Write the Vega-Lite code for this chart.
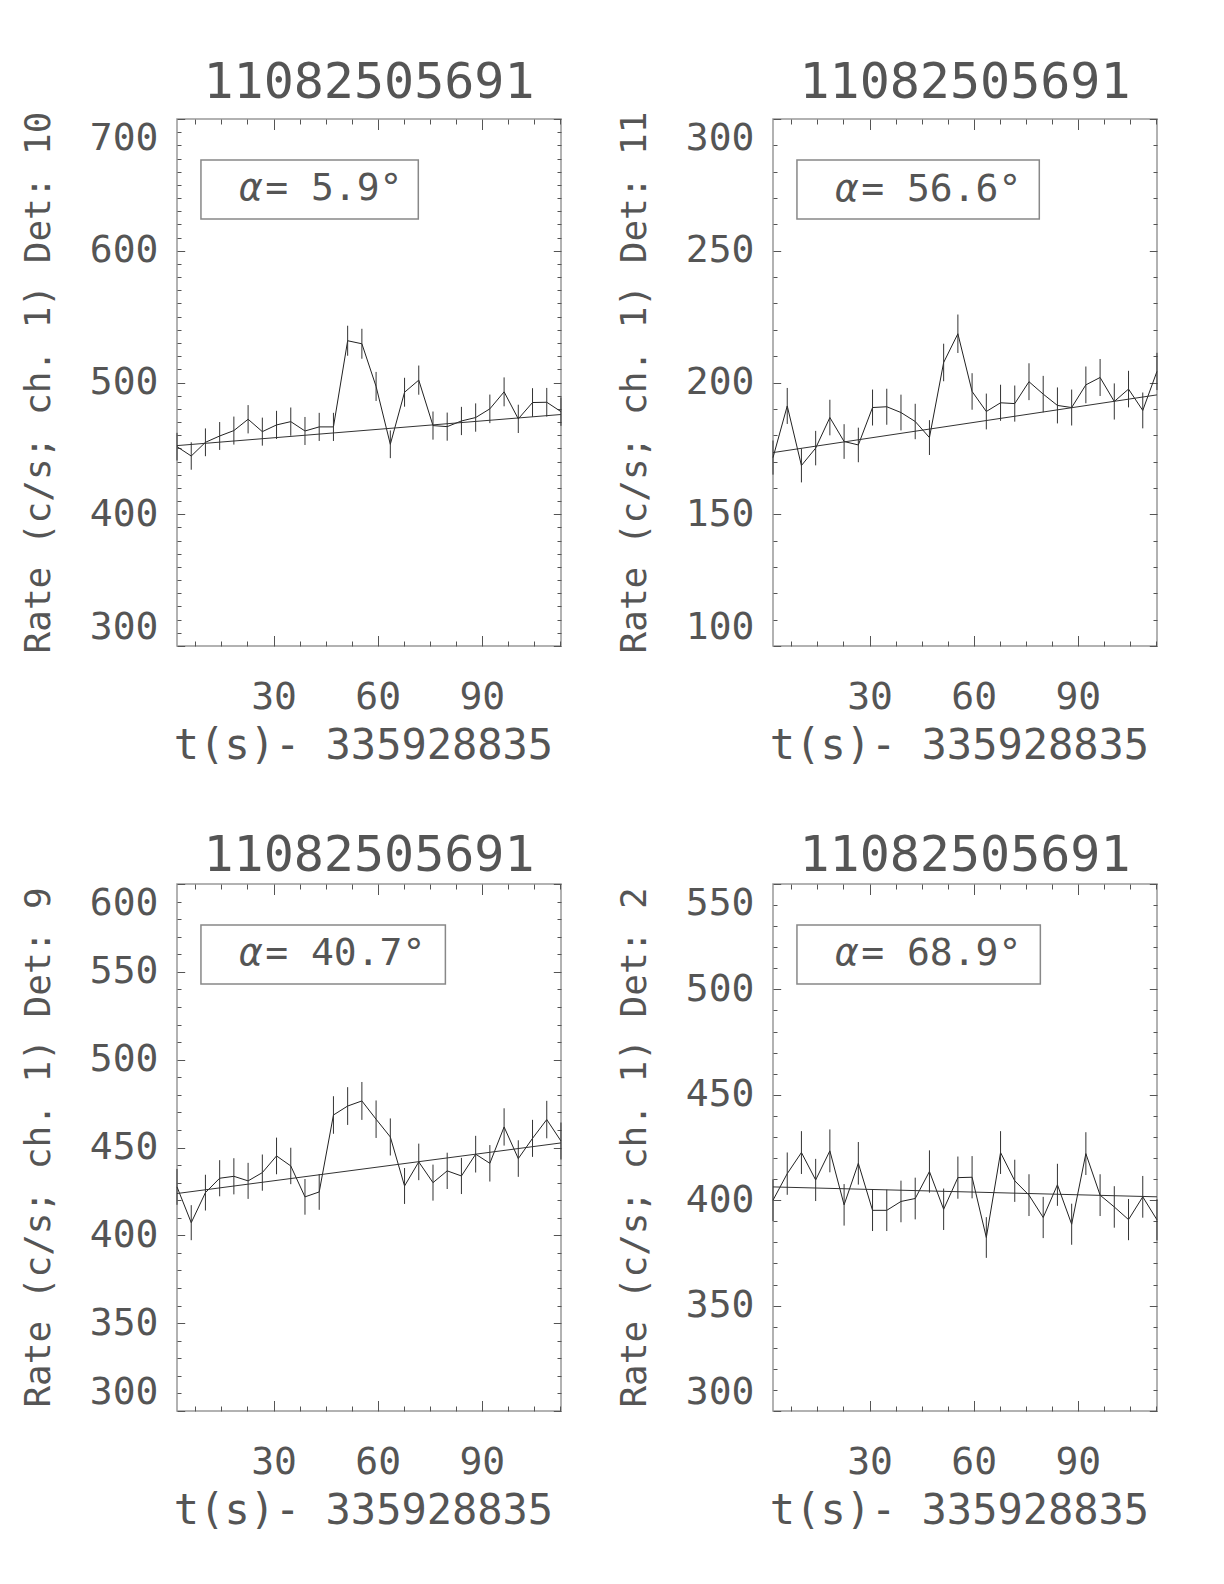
{
  "$schema": "https://vega.github.io/schema/vega-lite/v6.json",
  "background": "white",
  "padding": {"left": 19, "top": 57, "right": 5, "bottom": 5},
  "datasets": {
    "d10": [
      {"t":2.2,"rate":451.3,"err":10.5},{"t":6.3,"rate":444.2,"err":10.41},{"t":10.39,"rate":454.6,"err":10.54},{"t":14.49,"rate":459.4,"err":10.59},
      {"t":18.58,"rate":463.5,"err":10.64},{"t":22.68,"rate":472.1,"err":10.74},{"t":26.78,"rate":462.7,"err":10.63},{"t":30.87,"rate":467.8,"err":10.69},
      {"t":34.97,"rate":470.3,"err":10.72},{"t":39.06,"rate":463.2,"err":10.63},{"t":43.16,"rate":466.3,"err":10.67},{"t":47.26,"rate":466.3,"err":10.67},
      {"t":51.35,"rate":531.7,"err":11.39},{"t":55.45,"rate":529.4,"err":11.37},{"t":59.54,"rate":497.0,"err":11.02},{"t":63.64,"rate":453.1,"err":10.52},
      {"t":67.74,"rate":492.6,"err":10.97},{"t":71.83,"rate":501.8,"err":11.07},{"t":75.93,"rate":467.3,"err":10.68},{"t":80.02,"rate":466.5,"err":10.67},
      {"t":84.12,"rate":470.8,"err":10.72},{"t":88.22,"rate":473.4,"err":10.75},{"t":92.31,"rate":480.0,"err":10.83},{"t":96.41,"rate":492.9,"err":10.97},
      {"t":100.5,"rate":472.4,"err":10.74},{"t":104.6,"rate":484.8,"err":10.88},{"t":108.7,"rate":485.0,"err":10.88},{"t":112.79,"rate":477.9,"err":10.8}
    ],
    "d11": [
      {"t":2.2,"rate":171.5,"err":6.47},{"t":6.3,"rate":191.1,"err":6.83},{"t":10.39,"rate":168.5,"err":6.41},{"t":14.49,"rate":175.1,"err":6.54},
      {"t":18.58,"rate":186.7,"err":6.75},{"t":22.68,"rate":177.6,"err":6.58},{"t":26.78,"rate":176.3,"err":6.56},{"t":30.87,"rate":190.5,"err":6.82},
      {"t":34.97,"rate":190.8,"err":6.83},{"t":39.06,"rate":188.6,"err":6.79},{"t":43.16,"rate":185.2,"err":6.72},{"t":47.26,"rate":179.1,"err":6.61},
      {"t":51.35,"rate":207.6,"err":7.12},{"t":55.45,"rate":218.5,"err":7.3},{"t":59.54,"rate":196.6,"err":6.93},{"t":63.64,"rate":189.0,"err":6.79},
      {"t":67.74,"rate":192.3,"err":6.85},{"t":71.83,"rate":192.0,"err":6.85},{"t":75.93,"rate":200.3,"err":6.99},{"t":80.02,"rate":195.6,"err":6.91},
      {"t":84.12,"rate":191.3,"err":6.83},{"t":88.22,"rate":190.5,"err":6.82},{"t":92.31,"rate":199.1,"err":6.97},{"t":96.41,"rate":201.9,"err":7.02},
      {"t":100.5,"rate":192.8,"err":6.86},{"t":104.6,"rate":197.5,"err":6.94},{"t":108.7,"rate":189.4,"err":6.8},{"t":112.79,"rate":204.2,"err":7.06}
    ],
    "d9": [
      {"t":2.2,"rate":427.6,"err":10.22},{"t":6.3,"rate":407.2,"err":9.97},{"t":10.39,"rate":424.3,"err":10.18},{"t":14.49,"rate":432.5,"err":10.28},
      {"t":18.58,"rate":433.6,"err":10.29},{"t":22.68,"rate":431.0,"err":10.26},{"t":26.78,"rate":435.7,"err":10.31},{"t":30.87,"rate":445.2,"err":10.43},
      {"t":34.97,"rate":439.5,"err":10.36},{"t":39.06,"rate":421.9,"err":10.15},{"t":43.16,"rate":424.7,"err":10.18},{"t":47.26,"rate":468.5,"err":10.69},
      {"t":51.35,"rate":473.6,"err":10.75},{"t":55.45,"rate":476.5,"err":10.79},{"t":59.54,"rate":466.1,"err":10.67},{"t":63.64,"rate":456.0,"err":10.55},
      {"t":67.74,"rate":428.1,"err":10.22},{"t":71.83,"rate":441.8,"err":10.39},{"t":75.93,"rate":430.0,"err":10.25},{"t":80.02,"rate":436.7,"err":10.33},
      {"t":84.12,"rate":433.8,"err":10.29},{"t":88.22,"rate":446.2,"err":10.44},{"t":92.31,"rate":441.0,"err":10.38},{"t":96.41,"rate":461.7,"err":10.62},
      {"t":100.5,"rate":443.7,"err":10.41},{"t":104.6,"rate":455.2,"err":10.54},{"t":108.7,"rate":465.9,"err":10.66},{"t":112.79,"rate":453.7,"err":10.52}
    ],
    "d2": [
      {"t":2.2,"rate":400.0,"err":9.88},{"t":6.3,"rate":412.6,"err":10.04},{"t":10.39,"rate":422.6,"err":10.16},{"t":14.49,"rate":409.6,"err":10.0},
      {"t":18.58,"rate":423.4,"err":10.17},{"t":22.68,"rate":397.8,"err":9.85},{"t":26.78,"rate":417.5,"err":10.1},{"t":30.87,"rate":395.2,"err":9.82},
      {"t":34.97,"rate":395.2,"err":9.82},{"t":39.06,"rate":399.4,"err":9.87},{"t":43.16,"rate":400.8,"err":9.89},{"t":47.26,"rate":413.6,"err":10.05},
      {"t":51.35,"rate":395.7,"err":9.83},{"t":55.45,"rate":410.7,"err":10.01},{"t":59.54,"rate":410.9,"err":10.02},{"t":63.64,"rate":382.3,"err":9.66},
      {"t":67.74,"rate":422.6,"err":10.16},{"t":71.83,"rate":409.2,"err":10.0},{"t":75.93,"rate":402.4,"err":9.91},{"t":80.02,"rate":391.8,"err":9.78},
      {"t":84.12,"rate":407.3,"err":9.97},{"t":88.22,"rate":388.6,"err":9.74},{"t":92.31,"rate":422.1,"err":10.15},{"t":96.41,"rate":402.4,"err":9.91},
      {"t":100.5,"rate":396.8,"err":9.84},{"t":104.6,"rate":390.8,"err":9.77},{"t":108.7,"rate":401.6,"err":9.9},{"t":112.79,"rate":390.7,"err":9.77}
    ],
    "f10": [{"t":2.2,"fit":452.1},{"t":112.79,"fit":475.7}],
    "f11": [{"t":2.2,"fit":173.4},{"t":112.79,"fit":195.3}],
    "f9": [{"t":2.2,"fit":423.8},{"t":112.79,"fit":452.6}],
    "f2": [{"t":2.2,"fit":406.3},{"t":112.79,"fit":401.6}]
  },
  "columns": 2,
  "bounds": "flush",
  "spacing": {"row": 238, "column": 212},
  "concat": [
    {
      "width": 384, "height": 527,
      "title": "11082505691",
      "data": {"name": "d10"},
      "resolve": {"axis": {"x": "independent", "y": "independent"}},
      "layer": [
        {"mark": {"type": "point", "opacity": 0},
         "encoding": {
           "x": {"field": "t", "type": "quantitative", "scale": {"domain": [2.2, 112.8], "nice": false, "zero": false},
                 "axis": {"orient": "bottom", "values": [30, 60, 90], "tickSize": -10.5, "labelPadding": 72.5, "labelBaseline": "alphabetic",
                          "title": "t(s)- 335928835", "titleX": 186, "titleY": 112, "titleBaseline": "alphabetic", "titleAlign": "center", "titleFontSize": 42}},
           "y": {"field": "rate", "type": "quantitative", "scale": {"domain": [300, 700], "nice": false, "zero": false},
                 "axis": {"orient": "left", "values": [300, 400, 500, 600, 700], "tickSize": -7.7, "labelPadding": 26.7, "labelFlush": true,
                          "title": "Rate (c/s; ch. 1) Det: 10", "titleX": -128, "titleY": 263, "titleBaseline": "alphabetic", "titleAlign": "center", "titleAngle": 270, "titleFontSize": 36}}}},
        {"mark": {"type": "point", "opacity": 0},
         "encoding": {
           "x": {"field": "t", "type": "quantitative", "axis": {"orient": "bottom", "values": [7.5,15,22.5,37.5,45,52.5,67.5,75,82.5,97.5,105,112.5], "tickSize": -5, "labels": false, "title": null}},
           "y": {"field": "rate", "type": "quantitative", "axis": {"orient": "left", "values": [310,320,330,340,350,360,370,380,390,410,420,430,440,450,460,470,480,490,510,520,530,540,550,560,570,580,590,610,620,630,640,650,660,670,680,690], "tickSize": -4, "labels": false, "title": null}}}},
        {"mark": {"type": "point", "opacity": 0},
         "encoding": {
           "x": {"field": "t", "type": "quantitative", "axis": {"orient": "top", "values": [30, 60, 90], "tickSize": -10.5, "labels": false, "title": null}},
           "y": {"field": "rate", "type": "quantitative", "axis": {"orient": "right", "values": [300, 400, 500, 600, 700], "tickSize": -7.7, "labels": false, "title": null}}}},
        {"mark": {"type": "point", "opacity": 0},
         "encoding": {
           "x": {"field": "t", "type": "quantitative", "axis": {"orient": "top", "values": [7.5,15,22.5,37.5,45,52.5,67.5,75,82.5,97.5,105,112.5], "tickSize": -5, "labels": false, "title": null}},
           "y": {"field": "rate", "type": "quantitative", "axis": {"orient": "right", "values": [310,320,330,340,350,360,370,380,390,410,420,430,440,450,460,470,480,490,510,520,530,540,550,560,570,580,590,610,620,630,640,650,660,670,680,690], "tickSize": -4, "labels": false, "title": null}}}},
        {"mark": {"type": "line", "color": "#222", "strokeWidth": 1},
         "encoding": {"x": {"field": "t", "type": "quantitative", "axis": null}, "y": {"field": "rate", "type": "quantitative", "axis": null}}},
        {"mark": {"type": "errorbar", "color": "#333", "thickness": 1},
         "encoding": {"x": {"field": "t", "type": "quantitative", "axis": null}, "y": {"field": "rate", "type": "quantitative", "axis": null}, "yError": {"field": "err"}}},
        {"data": {"name": "f10"}, "mark": {"type": "line", "color": "#333", "strokeWidth": 1},
         "encoding": {"x": {"field": "t", "type": "quantitative", "axis": null}, "y": {"field": "fit", "type": "quantitative", "axis": null}}},
        {"data": {"values": [{}]}, "mark": {"type": "rect", "fillOpacity": 0, "stroke": "#888", "strokeWidth": 1.5},
         "encoding": {"x": {"datum": 9.1, "type": "quantitative", "axis": null}, "x2": {"datum": 71.7}, "y": {"datum": 668.9, "type": "quantitative", "axis": null}, "y2": {"datum": 624.1}}},
        {"data": {"values": [{"s": "α"}]}, "mark": {"type": "text", "align": "left", "baseline": "middle", "fontSize": 38, "fontStyle": "italic", "color": "#555", "font": "DejaVu Sans Mono"},
         "encoding": {"x": {"datum": 20.1, "type": "quantitative", "axis": null}, "y": {"datum": 646.5, "type": "quantitative", "axis": null}, "text": {"field": "s"}}},
        {"data": {"values": [{"s": "= 5.9°"}]}, "mark": {"type": "text", "align": "left", "baseline": "middle", "fontSize": 38, "color": "#555", "font": "DejaVu Sans Mono"},
         "encoding": {"x": {"datum": 27.6, "type": "quantitative", "axis": null}, "y": {"datum": 646.5, "type": "quantitative", "axis": null}, "text": {"field": "s"}}}
      ]
    },
    {
      "width": 384, "height": 527,
      "title": "11082505691",
      "data": {"name": "d11"},
      "resolve": {"axis": {"x": "independent", "y": "independent"}},
      "layer": [
        {"mark": {"type": "point", "opacity": 0},
         "encoding": {
           "x": {"field": "t", "type": "quantitative", "scale": {"domain": [2.2, 112.8], "nice": false, "zero": false},
                 "axis": {"orient": "bottom", "values": [30, 60, 90], "tickSize": -10.5, "labelPadding": 72.5, "labelBaseline": "alphabetic",
                          "title": "t(s)- 335928835", "titleX": 186, "titleY": 112, "titleBaseline": "alphabetic", "titleAlign": "center", "titleFontSize": 42}},
           "y": {"field": "rate", "type": "quantitative", "scale": {"domain": [100, 300], "nice": false, "zero": false},
                 "axis": {"orient": "left", "values": [100, 150, 200, 250, 300], "tickSize": -7.7, "labelPadding": 26.7, "labelFlush": true,
                          "title": "Rate (c/s; ch. 1) Det: 11", "titleX": -128, "titleY": 263, "titleBaseline": "alphabetic", "titleAlign": "center", "titleAngle": 270, "titleFontSize": 36}}}},
        {"mark": {"type": "point", "opacity": 0},
         "encoding": {
           "x": {"field": "t", "type": "quantitative", "axis": {"orient": "bottom", "values": [7.5,15,22.5,37.5,45,52.5,67.5,75,82.5,97.5,105,112.5], "tickSize": -5, "labels": false, "title": null}},
           "y": {"field": "rate", "type": "quantitative", "axis": {"orient": "left", "values": [110,120,130,140,160,170,180,190,210,220,230,240,260,270,280,290], "tickSize": -4, "labels": false, "title": null}}}},
        {"mark": {"type": "point", "opacity": 0},
         "encoding": {
           "x": {"field": "t", "type": "quantitative", "axis": {"orient": "top", "values": [30, 60, 90], "tickSize": -10.5, "labels": false, "title": null}},
           "y": {"field": "rate", "type": "quantitative", "axis": {"orient": "right", "values": [100, 150, 200, 250, 300], "tickSize": -7.7, "labels": false, "title": null}}}},
        {"mark": {"type": "point", "opacity": 0},
         "encoding": {
           "x": {"field": "t", "type": "quantitative", "axis": {"orient": "top", "values": [7.5,15,22.5,37.5,45,52.5,67.5,75,82.5,97.5,105,112.5], "tickSize": -5, "labels": false, "title": null}},
           "y": {"field": "rate", "type": "quantitative", "axis": {"orient": "right", "values": [110,120,130,140,160,170,180,190,210,220,230,240,260,270,280,290], "tickSize": -4, "labels": false, "title": null}}}},
        {"mark": {"type": "line", "color": "#222", "strokeWidth": 1},
         "encoding": {"x": {"field": "t", "type": "quantitative", "axis": null}, "y": {"field": "rate", "type": "quantitative", "axis": null}}},
        {"mark": {"type": "errorbar", "color": "#333", "thickness": 1},
         "encoding": {"x": {"field": "t", "type": "quantitative", "axis": null}, "y": {"field": "rate", "type": "quantitative", "axis": null}, "yError": {"field": "err"}}},
        {"data": {"name": "f11"}, "mark": {"type": "line", "color": "#333", "strokeWidth": 1},
         "encoding": {"x": {"field": "t", "type": "quantitative", "axis": null}, "y": {"field": "fit", "type": "quantitative", "axis": null}}},
        {"data": {"values": [{}]}, "mark": {"type": "rect", "fillOpacity": 0, "stroke": "#888", "strokeWidth": 1.5},
         "encoding": {"x": {"datum": 9.1, "type": "quantitative", "axis": null}, "x2": {"datum": 78.9}, "y": {"datum": 284.4, "type": "quantitative", "axis": null}, "y2": {"datum": 262.05}}},
        {"data": {"values": [{"s": "α"}]}, "mark": {"type": "text", "align": "left", "baseline": "middle", "fontSize": 38, "fontStyle": "italic", "color": "#555", "font": "DejaVu Sans Mono"},
         "encoding": {"x": {"datum": 20.1, "type": "quantitative", "axis": null}, "y": {"datum": 273.2, "type": "quantitative", "axis": null}, "text": {"field": "s"}}},
        {"data": {"values": [{"s": "= 56.6°"}]}, "mark": {"type": "text", "align": "left", "baseline": "middle", "fontSize": 38, "color": "#555", "font": "DejaVu Sans Mono"},
         "encoding": {"x": {"datum": 27.6, "type": "quantitative", "axis": null}, "y": {"datum": 273.2, "type": "quantitative", "axis": null}, "text": {"field": "s"}}}
      ]
    },
    {
      "width": 384, "height": 527,
      "title": "11082505691",
      "data": {"name": "d9"},
      "resolve": {"axis": {"x": "independent", "y": "independent"}},
      "layer": [
        {"mark": {"type": "point", "opacity": 0},
         "encoding": {
           "x": {"field": "t", "type": "quantitative", "scale": {"domain": [2.2, 112.8], "nice": false, "zero": false},
                 "axis": {"orient": "bottom", "values": [30, 60, 90], "tickSize": -10.5, "labelPadding": 72.5, "labelBaseline": "alphabetic",
                          "title": "t(s)- 335928835", "titleX": 186, "titleY": 112, "titleBaseline": "alphabetic", "titleAlign": "center", "titleFontSize": 42}},
           "y": {"field": "rate", "type": "quantitative", "scale": {"domain": [300, 600], "nice": false, "zero": false},
                 "axis": {"orient": "left", "values": [300, 350, 400, 450, 500, 550, 600], "tickSize": -7.7, "labelPadding": 26.7, "labelFlush": true,
                          "title": "Rate (c/s; ch. 1) Det: 9", "titleX": -128, "titleY": 263, "titleBaseline": "alphabetic", "titleAlign": "center", "titleAngle": 270, "titleFontSize": 36}}}},
        {"mark": {"type": "point", "opacity": 0},
         "encoding": {
           "x": {"field": "t", "type": "quantitative", "axis": {"orient": "bottom", "values": [7.5,15,22.5,37.5,45,52.5,67.5,75,82.5,97.5,105,112.5], "tickSize": -5, "labels": false, "title": null}},
           "y": {"field": "rate", "type": "quantitative", "axis": {"orient": "left", "values": [310,320,330,340,360,370,380,390,410,420,430,440,460,470,480,490,510,520,530,540,560,570,580,590], "tickSize": -4, "labels": false, "title": null}}}},
        {"mark": {"type": "point", "opacity": 0},
         "encoding": {
           "x": {"field": "t", "type": "quantitative", "axis": {"orient": "top", "values": [30, 60, 90], "tickSize": -10.5, "labels": false, "title": null}},
           "y": {"field": "rate", "type": "quantitative", "axis": {"orient": "right", "values": [300, 350, 400, 450, 500, 550, 600], "tickSize": -7.7, "labels": false, "title": null}}}},
        {"mark": {"type": "point", "opacity": 0},
         "encoding": {
           "x": {"field": "t", "type": "quantitative", "axis": {"orient": "top", "values": [7.5,15,22.5,37.5,45,52.5,67.5,75,82.5,97.5,105,112.5], "tickSize": -5, "labels": false, "title": null}},
           "y": {"field": "rate", "type": "quantitative", "axis": {"orient": "right", "values": [310,320,330,340,360,370,380,390,410,420,430,440,460,470,480,490,510,520,530,540,560,570,580,590], "tickSize": -4, "labels": false, "title": null}}}},
        {"mark": {"type": "line", "color": "#222", "strokeWidth": 1},
         "encoding": {"x": {"field": "t", "type": "quantitative", "axis": null}, "y": {"field": "rate", "type": "quantitative", "axis": null}}},
        {"mark": {"type": "errorbar", "color": "#333", "thickness": 1},
         "encoding": {"x": {"field": "t", "type": "quantitative", "axis": null}, "y": {"field": "rate", "type": "quantitative", "axis": null}, "yError": {"field": "err"}}},
        {"data": {"name": "f9"}, "mark": {"type": "line", "color": "#333", "strokeWidth": 1},
         "encoding": {"x": {"field": "t", "type": "quantitative", "axis": null}, "y": {"field": "fit", "type": "quantitative", "axis": null}}},
        {"data": {"values": [{}]}, "mark": {"type": "rect", "fillOpacity": 0, "stroke": "#888", "strokeWidth": 1.5},
         "encoding": {"x": {"datum": 9.1, "type": "quantitative", "axis": null}, "x2": {"datum": 79.5}, "y": {"datum": 576.7, "type": "quantitative", "axis": null}, "y2": {"datum": 543.1}}},
        {"data": {"values": [{"s": "α"}]}, "mark": {"type": "text", "align": "left", "baseline": "middle", "fontSize": 38, "fontStyle": "italic", "color": "#555", "font": "DejaVu Sans Mono"},
         "encoding": {"x": {"datum": 20.1, "type": "quantitative", "axis": null}, "y": {"datum": 559.9, "type": "quantitative", "axis": null}, "text": {"field": "s"}}},
        {"data": {"values": [{"s": "= 40.7°"}]}, "mark": {"type": "text", "align": "left", "baseline": "middle", "fontSize": 38, "color": "#555", "font": "DejaVu Sans Mono"},
         "encoding": {"x": {"datum": 27.6, "type": "quantitative", "axis": null}, "y": {"datum": 559.9, "type": "quantitative", "axis": null}, "text": {"field": "s"}}}
      ]
    },
    {
      "width": 384, "height": 527,
      "title": "11082505691",
      "data": {"name": "d2"},
      "resolve": {"axis": {"x": "independent", "y": "independent"}},
      "layer": [
        {"mark": {"type": "point", "opacity": 0},
         "encoding": {
           "x": {"field": "t", "type": "quantitative", "scale": {"domain": [2.2, 112.8], "nice": false, "zero": false},
                 "axis": {"orient": "bottom", "values": [30, 60, 90], "tickSize": -10.5, "labelPadding": 72.5, "labelBaseline": "alphabetic",
                          "title": "t(s)- 335928835", "titleX": 186, "titleY": 112, "titleBaseline": "alphabetic", "titleAlign": "center", "titleFontSize": 42}},
           "y": {"field": "rate", "type": "quantitative", "scale": {"domain": [300, 550], "nice": false, "zero": false},
                 "axis": {"orient": "left", "values": [300, 350, 400, 450, 500, 550], "tickSize": -7.7, "labelPadding": 26.7, "labelFlush": true,
                          "title": "Rate (c/s; ch. 1) Det: 2", "titleX": -128, "titleY": 263, "titleBaseline": "alphabetic", "titleAlign": "center", "titleAngle": 270, "titleFontSize": 36}}}},
        {"mark": {"type": "point", "opacity": 0},
         "encoding": {
           "x": {"field": "t", "type": "quantitative", "axis": {"orient": "bottom", "values": [7.5,15,22.5,37.5,45,52.5,67.5,75,82.5,97.5,105,112.5], "tickSize": -5, "labels": false, "title": null}},
           "y": {"field": "rate", "type": "quantitative", "axis": {"orient": "left", "values": [310,320,330,340,360,370,380,390,410,420,430,440,460,470,480,490,510,520,530,540], "tickSize": -4, "labels": false, "title": null}}}},
        {"mark": {"type": "point", "opacity": 0},
         "encoding": {
           "x": {"field": "t", "type": "quantitative", "axis": {"orient": "top", "values": [30, 60, 90], "tickSize": -10.5, "labels": false, "title": null}},
           "y": {"field": "rate", "type": "quantitative", "axis": {"orient": "right", "values": [300, 350, 400, 450, 500, 550], "tickSize": -7.7, "labels": false, "title": null}}}},
        {"mark": {"type": "point", "opacity": 0},
         "encoding": {
           "x": {"field": "t", "type": "quantitative", "axis": {"orient": "top", "values": [7.5,15,22.5,37.5,45,52.5,67.5,75,82.5,97.5,105,112.5], "tickSize": -5, "labels": false, "title": null}},
           "y": {"field": "rate", "type": "quantitative", "axis": {"orient": "right", "values": [310,320,330,340,360,370,380,390,410,420,430,440,460,470,480,490,510,520,530,540], "tickSize": -4, "labels": false, "title": null}}}},
        {"mark": {"type": "line", "color": "#222", "strokeWidth": 1},
         "encoding": {"x": {"field": "t", "type": "quantitative", "axis": null}, "y": {"field": "rate", "type": "quantitative", "axis": null}}},
        {"mark": {"type": "errorbar", "color": "#333", "thickness": 1},
         "encoding": {"x": {"field": "t", "type": "quantitative", "axis": null}, "y": {"field": "rate", "type": "quantitative", "axis": null}, "yError": {"field": "err"}}},
        {"data": {"name": "f2"}, "mark": {"type": "line", "color": "#333", "strokeWidth": 1},
         "encoding": {"x": {"field": "t", "type": "quantitative", "axis": null}, "y": {"field": "fit", "type": "quantitative", "axis": null}}},
        {"data": {"values": [{}]}, "mark": {"type": "rect", "fillOpacity": 0, "stroke": "#888", "strokeWidth": 1.5},
         "encoding": {"x": {"datum": 9.1, "type": "quantitative", "axis": null}, "x2": {"datum": 79.2}, "y": {"datum": 530.55, "type": "quantitative", "axis": null}, "y2": {"datum": 502.56}}},
        {"data": {"values": [{"s": "α"}]}, "mark": {"type": "text", "align": "left", "baseline": "middle", "fontSize": 38, "fontStyle": "italic", "color": "#555", "font": "DejaVu Sans Mono"},
         "encoding": {"x": {"datum": 20.1, "type": "quantitative", "axis": null}, "y": {"datum": 516.6, "type": "quantitative", "axis": null}, "text": {"field": "s"}}},
        {"data": {"values": [{"s": "= 68.9°"}]}, "mark": {"type": "text", "align": "left", "baseline": "middle", "fontSize": 38, "color": "#555", "font": "DejaVu Sans Mono"},
         "encoding": {"x": {"datum": 27.6, "type": "quantitative", "axis": null}, "y": {"datum": 516.6, "type": "quantitative", "axis": null}, "text": {"field": "s"}}}
      ]
    }
  ],
  "config": {
    "font": "DejaVu Sans Mono",
    "view": {"stroke": "#999", "strokeWidth": 1.5},
    "axis": {
      "domain": false, "grid": false, "tickColor": "#555", "tickWidth": 1,
      "labelFont": "DejaVu Sans Mono", "labelFontSize": 38, "labelColor": "#555", "labelOverlap": false, "labelBound": false,
      "titleFont": "DejaVu Sans Mono", "titleFontWeight": "normal", "titleColor": "#555"
    },
    "title": {"font": "DejaVu Sans Mono", "fontSize": 50, "fontWeight": "normal", "color": "#555", "offset": 3, "baseline": "alphabetic", "anchor": "middle", "frame": "group"}
  }
}
